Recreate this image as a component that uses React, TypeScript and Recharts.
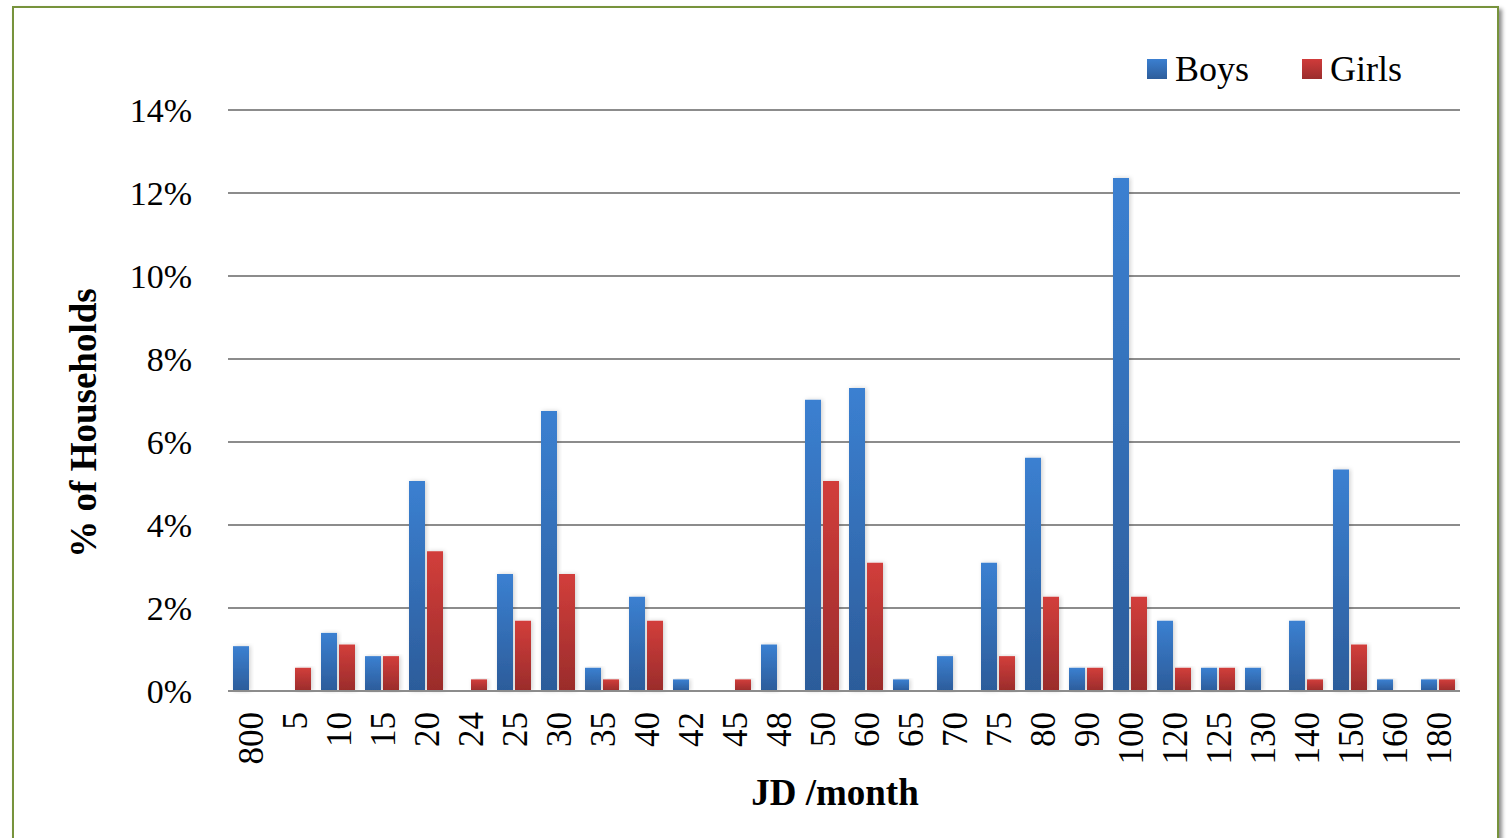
import React from 'react';
import { BarChart, Bar, XAxis, YAxis, CartesianGrid } from 'recharts';

const categories = ['800','5','10','15','20','24','25','30','35','40','42','45','48','50','60','65','70','75','80','90','100','120','125','130','140','150','160','180'];
const boys = [1.08,0,1.4,0.84,5.06,0,2.82,6.75,0.56,2.27,0.28,0,1.12,7.02,7.3,0.28,0.84,3.09,5.62,0.56,12.36,1.69,0.56,0.56,1.69,5.34,0.28,0.28];
const girls = [0,0.56,1.12,0.84,3.37,0.28,1.69,2.82,0.28,1.69,0,0.28,0,5.06,3.09,0,0,0.84,2.27,0.56,2.27,0.56,0.56,0,0.28,1.12,0,0.28];
const yTicks = [0,2,4,6,8,10,12,14];

const data = categories.map((c, i) => ({ cat: c, Boys: boys[i], Girls: girls[i] }));

const FONT = '"Liberation Serif", "Times New Roman", serif';

const XTick = (props: any) => {
  const { x, payload } = props;
  return (
    <text
      x={x}
      y={712}
      transform={`rotate(-90, ${x}, 712)`}
      textAnchor="end"
      dy="0.36em"
      fontFamily={FONT}
      fontSize={35}
      fill="#000"
    >
      {payload.value}
    </text>
  );
};

export default function App() {
  return (
    <div style={{ position: 'fixed', left: 0, top: 0, width: 1509, height: 838, overflow: 'hidden', background: '#fff' }}>
      <div
        style={{
          position: 'absolute',
          left: 12,
          top: 6,
          width: 1487,
          height: 900,
          border: '2.5px solid #77933c',
          boxShadow: '3px 3px 4px rgba(0,0,0,0.45)',
          boxSizing: 'border-box',
        }}
      />
      <div style={{ position: 'absolute', left: 0, top: 0 }}>
        <BarChart
          width={1509}
          height={838}
          data={data}
          margin={{ top: 110, right: 49, bottom: 0, left: 0 }}
          barSize={16}
          barGap={2}
        >
          <defs>
            <linearGradient id="gBoys" x1="0" y1="0" x2="0" y2="1">
              <stop offset="0%" stopColor="#3b80d1" />
              <stop offset="100%" stopColor="#2c5c9a" />
            </linearGradient>
            <linearGradient id="gGirls" x1="0" y1="0" x2="0" y2="1">
              <stop offset="0%" stopColor="#d23e3b" />
              <stop offset="100%" stopColor="#9a2c2b" />
            </linearGradient>
            <filter id="shadow" x="-30%" y="-5%" width="160%" height="110%">
              <feDropShadow dx="1.5" dy="0" stdDeviation="2" floodColor="#000" floodOpacity="0.18" />
            </filter>
          </defs>
          <CartesianGrid horizontal vertical={false} stroke="#8c8c8c" strokeWidth={2} />
          <XAxis
            dataKey="cat"
            interval={0}
            tick={<XTick />}
            tickLine={false}
            axisLine={{ stroke: '#8c8c8c', strokeWidth: 2 }}
            height={147}
          />
          <YAxis
            width={228}
            domain={[0, 14]}
            ticks={yTicks}
            tickFormatter={(v: number) => `${v}%`}
            tickLine={false}
            axisLine={false}
            tickSize={0}
            tickMargin={36}
            tick={{ fontFamily: FONT, fontSize: 34, fill: '#000' }}
          />
          <Bar dataKey="Boys" fill="url(#gBoys)" isAnimationActive={false} filter="url(#shadow)" />
          <Bar dataKey="Girls" fill="url(#gGirls)" isAnimationActive={false} filter="url(#shadow)" />
        </BarChart>
      </div>
      <div
        style={{
          position: 'absolute',
          left: 1147,
          top: 48,
          display: 'flex',
          alignItems: 'center',
          fontFamily: FONT,
          fontSize: 36,
          color: '#000',
          whiteSpace: 'nowrap',
        }}
      >
        <div style={{ width: 20, height: 20, background: 'linear-gradient(#3b7fd0, #2d5d9b)', marginRight: 8 }} />
        <span style={{ marginRight: 53 }}>Boys</span>
        <div style={{ width: 20, height: 20, background: 'linear-gradient(#d03b3a, #9b2d2d)', marginRight: 8 }} />
        <span>Girls</span>
      </div>
      <svg width={1509} height={838} style={{ position: 'absolute', left: 0, top: 0, pointerEvents: 'none' }}>
        <text
          x={83}
          y={423}
          transform="rotate(-90, 83, 423)"
          textAnchor="middle"
          dy="0.36em"
          fontFamily={FONT}
          fontWeight="bold"
          fontSize={37}
          fill="#000"
        >
          % of Households
        </text>
        <text x={835} y={792} textAnchor="middle" dy="0.36em" fontFamily={FONT} fontWeight="bold" fontSize={37} fill="#000">
          JD /month
        </text>
      </svg>
    </div>
  );
}
